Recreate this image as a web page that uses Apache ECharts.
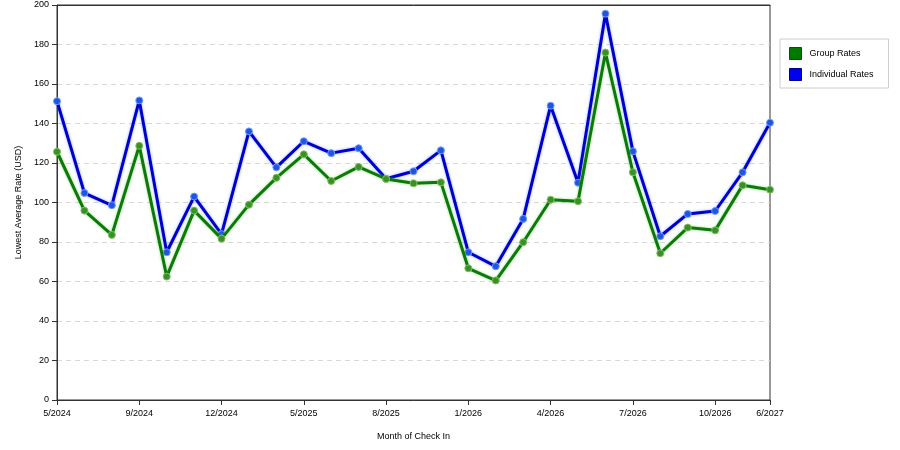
<!DOCTYPE html>
<html>
<head>
<meta charset="utf-8">
<script src="https://cdn.jsdelivr.net/npm/echarts@6/dist/echarts.min.js"></script>
<style>
    html, body { margin: 0; padding: 0; background: #fff; }
    #chart { width: 900px; height: 450px; }
</style>
</head>
<body>
<div id="chart"></div>
<script>
// months of check-in (x categories)
var months = ['5/2024', '6/2024', '7/2024', '9/2024', '10/2024', '11/2024', '12/2024',
    '1/2025', '3/2025', '5/2025', '6/2025', '7/2025', '8/2025', '10/2025', '12/2025',
    '1/2026', '2/2026', '3/2026', '4/2026', '5/2026', '6/2026', '7/2026', '8/2026',
    '9/2026', '10/2026', '11/2026', '6/2027'];
// labels that get a tick on the x axis
var tickLabels = ['5/2024', '9/2024', '12/2024', '5/2025', '8/2025', '1/2026', '4/2026', '7/2026', '10/2026', '6/2027'];

var groupRates = [125.7, 95.9, 83.6, 128.7, 62.5, 95.9, 81.7, 98.9, 112.5, 124.4, 110.9, 118,
    111.9, 109.7, 110.2, 66.7, 60.5, 79.9, 101.4, 100.6, 175.9, 115.3, 74.3, 87.3, 85.9, 108.7, 106.5];
var individualRates = [151.3, 104.8, 98.6, 151.7, 74.8, 103, 84, 136, 117.8, 131, 125, 127.5,
    112, 115.8, 126.4, 74.8, 67.7, 91.7, 149, 110, 195.6, 125.9, 82.9, 94.2, 95.7, 115.3, 140.4];

var showTick = function (idx, value) {
    return tickLabels.indexOf(months[idx]) >= 0;
};

var chart = echarts.init(document.getElementById('chart'));
var option = {
    animation: false,
    textStyle: { fontFamily: 'Liberation Sans, Arial, sans-serif' },
    grid: {
        left: 57,
        right: 130,
        top: 5,
        bottom: 50,
        show: true,
        borderColor: '#333',
        borderWidth: 1
    },
    legend: {
        orient: 'vertical',
        left: 780,
        top: 39,
        itemWidth: 12,
        itemHeight: 12,
        itemGap: 8,
        padding: [8, 15, 7, 9],
        borderColor: '#cccccc',
        borderWidth: 1,
        icon: 'rect',
        textStyle: { fontSize: 9, color: '#000', padding: [0, 0, 0, 3] },
        data: [
            { name: 'Group Rates', itemStyle: { color: '#007a00', borderColor: '#005500', borderWidth: 1 } },
            { name: 'Individual Rates', itemStyle: { color: '#0000ee', borderColor: '#000099', borderWidth: 1 } }
        ]
    },
    xAxis: [
        {
            type: 'category',
            data: months,
            boundaryGap: false,
            name: 'Month of Check In',
            nameLocation: 'middle',
            nameGap: 32,
            nameTextStyle: { fontSize: 9, color: '#000' },
            axisLine: { lineStyle: { color: '#333', width: 1 } },
            axisTick: { show: true, interval: showTick, length: 5, lineStyle: { color: '#333' } },
            axisLabel: { interval: showTick, fontSize: 9, color: '#000', margin: 9 },
            splitLine: { show: false }
        },
        {
            // top frame line, drawn above the last split line
            type: 'category',
            data: months,
            boundaryGap: false,
            position: 'top',
            axisLine: { show: true, lineStyle: { color: '#333', width: 1 } },
            axisTick: { show: false },
            axisLabel: { show: false },
            splitLine: { show: false }
        }
    ],
    yAxis: {
        type: 'value',
        min: 0,
        max: 200,
        interval: 20,
        name: 'Lowest Average Rate (USD)',
        nameLocation: 'middle',
        nameGap: 34,
        nameTextStyle: { fontSize: 9, color: '#000' },
        axisLine: { show: true, lineStyle: { color: '#333', width: 1 } },
        axisTick: { show: true, length: 5, lineStyle: { color: '#333' } },
        axisLabel: { fontSize: 9, color: '#000', margin: 8 },
        splitLine: { show: true, lineStyle: { color: '#d8d8d8', type: [5, 4] } }
    },
    series: [
        {
            name: 'Group Rates',
            type: 'line',
            data: groupRates,
            z: 3,
            symbol: 'circle',
            symbolSize: 7,
            lineStyle: { color: '#0b7a0b', width: 3, shadowColor: 'rgba(90,200,60,0.6)', shadowBlur: 3 },
            itemStyle: { color: '#3b8f28', borderColor: '#7fbf5f', borderWidth: 1 }
        },
        {
            name: 'Individual Rates',
            type: 'line',
            data: individualRates,
            z: 2,
            symbol: 'circle',
            symbolSize: 7,
            lineStyle: { color: '#0000cc', width: 3, shadowColor: 'rgba(80,120,255,0.6)', shadowBlur: 3 },
            itemStyle: { color: '#1f55e0', borderColor: '#6f9cff', borderWidth: 1 }
        }
    ]
};
chart.setOption(option);
</script>
</body>
</html>
